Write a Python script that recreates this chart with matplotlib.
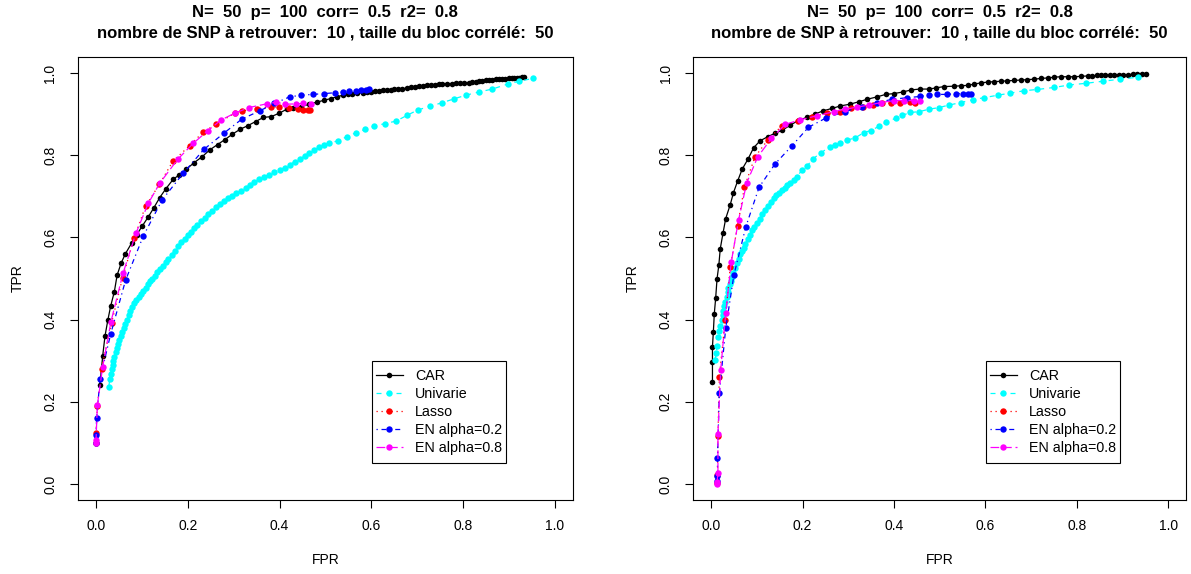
import matplotlib
matplotlib.use("Agg")
import matplotlib.pyplot as plt
from matplotlib.patches import Rectangle
from matplotlib.transforms import offset_copy, blended_transform_factory, IdentityTransform

# ---------------- data ----------------
title1 = "N=  50  p=  100  corr=  0.5  r2=  0.8"
title2 = "nombre de SNP à retrouver:  10 , taille du bloc corrélé:  50"
series_names = ["CAR", "Univarie", "Lasso", "EN alpha=0.2", "EN alpha=0.8"]
ticks = [0.0, 0.2, 0.4, 0.6, 0.8, 1.0]
tick_labels = ["0.0", "0.2", "0.4", "0.6", "0.8", "1.0"]

# Left panel
L_car_x = [0.0087, 0.0145, 0.0196, 0.026, 0.032, 0.040, 0.046, 0.055, 0.064, 0.0775, 0.089, 0.101,
           0.114, 0.126, 0.139, 0.152, 0.168, 0.181, 0.197, 0.214, 0.231, 0.248, 0.265, 0.281,
           0.297, 0.314, 0.331, 0.348, 0.365, 0.382, 0.399, 0.416, 0.430, 0.447, 0.464, 0.481,
           0.498, 0.512, 0.525, 0.538, 0.549, 0.559, 0.570, 0.581, 0.590, 0.599, 0.608, 0.617,
           0.626, 0.635, 0.643, 0.650, 0.659, 0.668, 0.677, 0.686, 0.695, 0.704, 0.713, 0.722,
           0.731, 0.740, 0.748, 0.755, 0.765, 0.775, 0.784, 0.794, 0.803, 0.813, 0.820, 0.828,
           0.835, 0.842, 0.850, 0.857, 0.864, 0.871, 0.878, 0.885, 0.892, 0.900, 0.906, 0.911,
           0.917, 0.922, 0.928, 0.933]
L_car_y = [0.241, 0.311, 0.360, 0.400, 0.433, 0.468, 0.508, 0.538, 0.560, 0.586, 0.607, 0.628,
           0.650, 0.672, 0.697, 0.718, 0.741, 0.752, 0.766, 0.782, 0.796, 0.813, 0.826, 0.838,
           0.851, 0.863, 0.872, 0.882, 0.892, 0.894, 0.902, 0.912, 0.914, 0.918, 0.924, 0.929,
           0.934, 0.938, 0.942, 0.946, 0.948, 0.950, 0.951, 0.952, 0.954, 0.955, 0.956, 0.957,
           0.958, 0.959, 0.959, 0.960, 0.961, 0.962, 0.963, 0.965, 0.966, 0.968, 0.969, 0.971,
           0.971, 0.972, 0.973, 0.973, 0.974, 0.974, 0.975, 0.975, 0.976, 0.976, 0.977, 0.979,
           0.980, 0.981, 0.982, 0.983, 0.984, 0.985, 0.985, 0.985, 0.986, 0.987, 0.987, 0.988,
           0.989, 0.989, 0.990, 0.990]

L_uni_x = [0.028, 0.030, 0.032, 0.034, 0.036, 0.038, 0.040, 0.043, 0.045, 0.048, 0.051, 0.054,
           0.057, 0.060, 0.064, 0.068, 0.071, 0.075, 0.079, 0.083, 0.088, 0.093, 0.098, 0.103,
           0.108, 0.113, 0.118, 0.123, 0.128, 0.134, 0.140, 0.146, 0.152, 0.158, 0.165, 0.172,
           0.179, 0.186, 0.193, 0.200, 0.207, 0.214, 0.221, 0.229, 0.237, 0.245, 0.253, 0.262,
           0.271, 0.279, 0.288, 0.297, 0.306, 0.316, 0.326, 0.335, 0.345, 0.356, 0.367, 0.378,
           0.389, 0.400, 0.411, 0.422, 0.433, 0.444, 0.455, 0.465, 0.476, 0.487, 0.497, 0.507,
           0.527, 0.547, 0.567, 0.587, 0.607, 0.630, 0.654, 0.678, 0.701, 0.728, 0.755, 0.780,
           0.806, 0.835, 0.864, 0.897, 0.922, 0.953]
L_uni_y = [0.237, 0.255, 0.268, 0.280, 0.290, 0.300, 0.310, 0.320, 0.330, 0.340, 0.350, 0.360,
           0.370, 0.380, 0.390, 0.400, 0.410, 0.420, 0.430, 0.440, 0.448, 0.455, 0.462, 0.470,
           0.478, 0.487, 0.493, 0.500, 0.507, 0.515, 0.523, 0.530, 0.540, 0.548, 0.558, 0.568,
           0.578, 0.588, 0.597, 0.606, 0.614, 0.622, 0.630, 0.640, 0.648, 0.656, 0.664, 0.673,
           0.681, 0.688, 0.695, 0.701, 0.707, 0.713, 0.720, 0.727, 0.734, 0.741, 0.748, 0.753,
           0.759, 0.764, 0.770, 0.777, 0.784, 0.791, 0.798, 0.805, 0.812, 0.819, 0.824, 0.829,
           0.835, 0.845, 0.855, 0.863, 0.871, 0.877, 0.883, 0.897, 0.910, 0.919, 0.928, 0.937,
           0.946, 0.954, 0.961, 0.973, 0.980, 0.987]

L_las_x = [0.0, 0.0, 0.003, 0.012, 0.034, 0.058, 0.083, 0.108, 0.138, 0.168, 0.204, 0.233, 0.261,
           0.302, 0.319, 0.350, 0.382, 0.398, 0.420, 0.440, 0.452, 0.462, 0.467]
L_las_y = [0.100, 0.123, 0.190, 0.281, 0.392, 0.502, 0.598, 0.676, 0.729, 0.786, 0.823, 0.856,
           0.875, 0.902, 0.908, 0.913, 0.918, 0.917, 0.914, 0.912, 0.911, 0.910, 0.909]

L_en2_x = [0.0, 0.0, 0.0015, 0.0087, 0.032, 0.0645, 0.103, 0.144, 0.190, 0.235, 0.278, 0.318,
           0.357, 0.389, 0.422, 0.447, 0.472, 0.498, 0.520, 0.538, 0.552, 0.567, 0.578, 0.588, 0.596]
L_en2_y = [0.100, 0.120, 0.161, 0.255, 0.365, 0.496, 0.603, 0.691, 0.756, 0.814, 0.853, 0.888,
           0.908, 0.926, 0.942, 0.946, 0.948, 0.950, 0.952, 0.954, 0.956, 0.957, 0.958, 0.959, 0.960]

L_en8_x = [0.0, 0.0, 0.003, 0.0145, 0.0326, 0.059, 0.087, 0.114, 0.139, 0.178, 0.212, 0.244,
           0.273, 0.302, 0.333, 0.372, 0.393, 0.413, 0.436, 0.452, 0.469]
L_en8_y = [0.100, 0.107, 0.192, 0.285, 0.395, 0.513, 0.610, 0.683, 0.732, 0.790, 0.829, 0.860,
           0.886, 0.902, 0.916, 0.925, 0.929, 0.924, 0.925, 0.926, 0.925]

# Right panel
R_car_x = [0.003, 0.003, 0.003, 0.005, 0.007, 0.010, 0.013, 0.017, 0.020, 0.026, 0.032, 0.042,
           0.049, 0.058, 0.068, 0.081, 0.093, 0.107, 0.124, 0.139, 0.156, 0.173, 0.193, 0.210,
           0.227, 0.245, 0.265, 0.283, 0.303, 0.323, 0.341, 0.363, 0.382, 0.400, 0.420, 0.438,
           0.457, 0.477, 0.493, 0.509, 0.531, 0.546, 0.561, 0.575, 0.590, 0.605, 0.619, 0.634,
           0.648, 0.663, 0.678, 0.692, 0.707, 0.722, 0.736, 0.751, 0.765, 0.780, 0.795, 0.810,
           0.824, 0.834, 0.844, 0.853, 0.862, 0.872, 0.882, 0.892, 0.902, 0.912, 0.922, 0.932,
           0.942, 0.952]
R_car_y = [0.249, 0.298, 0.334, 0.371, 0.414, 0.452, 0.499, 0.533, 0.572, 0.610, 0.646, 0.680,
           0.709, 0.737, 0.766, 0.791, 0.818, 0.835, 0.845, 0.853, 0.861, 0.873, 0.886, 0.892,
           0.900, 0.908, 0.914, 0.920, 0.924, 0.930, 0.936, 0.942, 0.948, 0.950, 0.954, 0.959,
           0.961, 0.961, 0.964, 0.967, 0.968, 0.969, 0.970, 0.973, 0.976, 0.978, 0.979, 0.980,
           0.981, 0.982, 0.983, 0.984, 0.985, 0.987, 0.988, 0.990, 0.991, 0.991, 0.991, 0.992,
           0.993, 0.993, 0.994, 0.994, 0.995, 0.995, 0.996, 0.996, 0.996, 0.996, 0.997, 0.997,
           0.998, 0.998]

R_uni_x = [0.009, 0.011, 0.013, 0.016, 0.018, 0.020, 0.023, 0.025, 0.027, 0.029, 0.031, 0.034,
           0.036, 0.038, 0.041, 0.043, 0.045, 0.048, 0.052, 0.056, 0.060, 0.064, 0.068, 0.071,
           0.075, 0.080, 0.085, 0.089, 0.094, 0.100, 0.106, 0.112, 0.118, 0.124, 0.130, 0.137,
           0.143, 0.149, 0.155, 0.161, 0.167, 0.173, 0.181, 0.188, 0.199, 0.210, 0.224, 0.240,
           0.260, 0.270, 0.283, 0.298, 0.315, 0.334, 0.349, 0.367, 0.382, 0.404, 0.418, 0.436,
           0.455, 0.477, 0.499, 0.520, 0.546, 0.572, 0.597, 0.627, 0.654, 0.685, 0.714, 0.751,
           0.784, 0.820, 0.857, 0.895, 0.935]
R_uni_y = [0.302, 0.318, 0.335, 0.358, 0.372, 0.385, 0.399, 0.410, 0.422, 0.433, 0.444, 0.455,
           0.466, 0.476, 0.486, 0.495, 0.504, 0.514, 0.526, 0.537, 0.548, 0.560, 0.568, 0.575,
           0.585, 0.596, 0.607, 0.617, 0.625, 0.634, 0.645, 0.656, 0.667, 0.676, 0.685, 0.695,
           0.702, 0.708, 0.715, 0.721, 0.727, 0.732, 0.740, 0.748, 0.764, 0.774, 0.792, 0.806,
           0.820, 0.826, 0.829, 0.837, 0.842, 0.855, 0.860, 0.870, 0.880, 0.890, 0.897, 0.904,
           0.906, 0.912, 0.916, 0.922, 0.928, 0.935, 0.940, 0.946, 0.951, 0.957, 0.960, 0.965,
           0.971, 0.975, 0.980, 0.985, 0.990]

R_las_x = [0.014, 0.014, 0.015, 0.018, 0.031, 0.042, 0.058, 0.073, 0.096, 0.124, 0.155, 0.190,
           0.221, 0.254, 0.283, 0.305, 0.333, 0.355, 0.374, 0.394, 0.414, 0.436, 0.447]
R_las_y = [0.003, 0.022, 0.117, 0.261, 0.400, 0.529, 0.628, 0.723, 0.796, 0.837, 0.872, 0.884,
           0.894, 0.902, 0.906, 0.914, 0.918, 0.922, 0.928, 0.926, 0.928, 0.929, 0.928]

R_en2_x = [0.014, 0.014, 0.014, 0.018, 0.032, 0.050, 0.076, 0.105, 0.140, 0.177, 0.213, 0.252,
           0.292, 0.330, 0.363, 0.396, 0.429, 0.458, 0.477, 0.495, 0.517, 0.535, 0.552, 0.561, 0.569]
R_en2_y = [0.008, 0.020, 0.064, 0.221, 0.379, 0.509, 0.626, 0.722, 0.779, 0.823, 0.868, 0.891,
           0.906, 0.918, 0.928, 0.936, 0.940, 0.943, 0.947, 0.948, 0.948, 0.950, 0.950, 0.950, 0.950]

R_en8_x = [0.013, 0.013, 0.015, 0.015, 0.021, 0.032, 0.044, 0.060, 0.078, 0.102, 0.132, 0.162,
           0.194, 0.232, 0.268, 0.294, 0.319, 0.345, 0.371, 0.400, 0.423, 0.444, 0.457]
R_en8_y = [0.000, 0.005, 0.026, 0.122, 0.277, 0.415, 0.539, 0.642, 0.733, 0.796, 0.841, 0.875,
           0.886, 0.896, 0.906, 0.912, 0.917, 0.922, 0.928, 0.933, 0.933, 0.933, 0.933]

# ---------------- drawing ----------------
plt.rcParams['font.family'] = ['Liberation Sans', 'DejaVu Sans']

colors = ["black", "#00FFFF", "#FF0000", "#0000FF", "#FF00FF"]
dashes = [None, (4, 4), (1, 3), (1, 3, 4, 3), (7, 3)]
msizes = [4.0, 4.6, 4.6, 4.6, 4.6]

fig = plt.figure(figsize=(11.91, 5.74), dpi=100)
axes_pos = [[0.0652, 0.1282, 0.4160, 0.7732], [0.5817, 0.1282, 0.4145, 0.7732]]

panels = [
    [(L_car_x, L_car_y), (L_uni_x, L_uni_y), (L_las_x, L_las_y), (L_en2_x, L_en2_y), (L_en8_x, L_en8_y)],
    [(R_car_x, R_car_y), (R_uni_x, R_uni_y), (R_las_x, R_las_y), (R_en2_x, R_en2_y), (R_en8_x, R_en8_y)],
]

legend_extra_pad = 4.0  # extra vertical padding (pixels) inside the legend box
legends = []

for pos, series in zip(axes_pos, panels):
    ax = fig.add_axes(pos)
    for (xs, ys), name, c, d, ms in zip(series, series_names, colors, dashes, msizes):
        line, = ax.plot(xs, ys, color=c, lw=0.9, marker='o', markersize=ms,
                        markeredgewidth=0, label=name)
        if d is not None:
            line.set_dashes(d)
    ax.set_xlim(-0.04, 1.04)
    ax.set_ylim(-0.04, 1.04)
    ax.set_xticks(ticks)
    ax.set_xticklabels(tick_labels)
    ax.set_yticks(ticks)
    ax.set_yticklabels(tick_labels, rotation=90, va='center')
    ax.tick_params(direction='out', length=5.8, width=0.8, labelsize=10, colors='black')
    ax.tick_params(axis='x', pad=7.5)
    ax.tick_params(axis='y', pad=8.8)
    for s in ax.spines.values():
        s.set_linewidth(0.8)

    tx = blended_transform_factory(ax.transAxes, ax.transAxes)
    ax.text(0.5, 0.0, "FPR", transform=offset_copy(tx, fig=fig, x=0, y=-59.5, units='dots'),
            ha='center', va='center', fontsize=10)
    ax.text(0.0, 0.5, "TPR", transform=offset_copy(tx, fig=fig, x=-60, y=0, units='dots'),
            ha='center', va='center', rotation=90, fontsize=10)
    ax.text(0.5, 1.0, title1, transform=offset_copy(tx, fig=fig, x=0, y=44.0, units='dots'),
            ha='center', va='center', fontsize=12, fontweight='bold')
    ax.text(0.5, 1.0, title2, transform=offset_copy(tx, fig=fig, x=0, y=23.4, units='dots'),
            ha='center', va='center', fontsize=12, fontweight='bold')

    leg = ax.legend(loc='upper left', bbox_to_anchor=(0.601, 0.2998),
                    bbox_transform=offset_copy(ax.transData, fig=fig, x=0, y=-legend_extra_pad,
                                               units='dots'),
                    borderaxespad=0, fontsize=10.3, handlelength=1.86, handletextpad=0.85,
                    labelspacing=0.27, borderpad=0.3, frameon=False)
    leg.set_zorder(6)
    legends.append((ax, leg))

fig.canvas.draw()
for ax, leg in legends:
    bb = leg.get_window_extent()
    frame = Rectangle((bb.x0, bb.y0 - legend_extra_pad), bb.width, bb.height + 2 * legend_extra_pad,
                      transform=IdentityTransform(), fill=True, facecolor='white',
                      edgecolor='black', linewidth=0.8, zorder=5.5, clip_on=False)
    ax.add_artist(frame)

fig.savefig("out.png", dpi=100)
